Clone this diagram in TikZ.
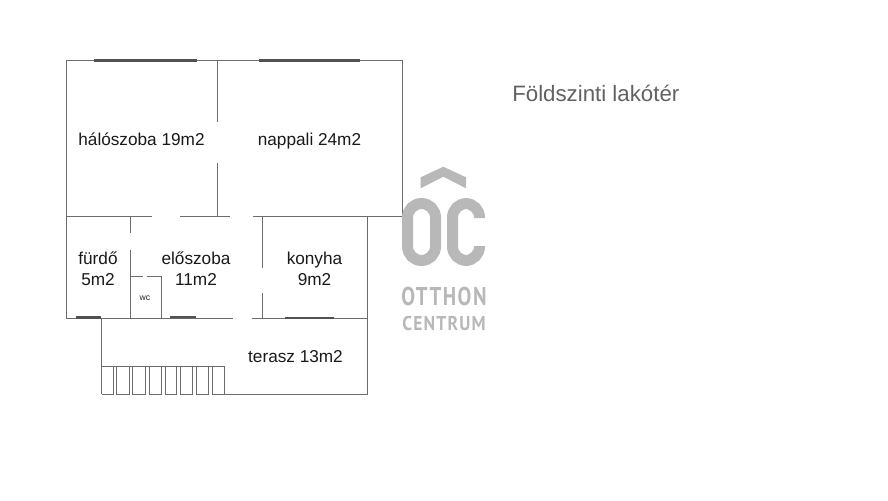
\documentclass[tikz,border=0pt]{standalone}
\usepackage{fontspec}
\setmainfont{Liberation Sans}
\newfontfamily\logofonta[FakeStretch=0.8,LetterSpace=6]{PT Sans}
\newfontfamily\logofontb[FakeStretch=0.88,LetterSpace=6]{PT Sans}
\definecolor{logogray}{gray}{0.72}
\tikzset{
 wall/.style={draw=black!58,line width=0.6pt},
 win/.style={draw=black!68,line width=1.8pt},
 lbl/.style={text=black!90,font=\fontsize{12.9pt}{15.75pt}\selectfont,align=center,inner sep=0pt},
 logo/.style={text=logogray,inner sep=0pt},
 logostroke/.style={draw=logogray,line width=8.25pt,rounded corners=10.5pt},
}
\begin{document}
\begin{tikzpicture}[x=0.75pt,y=-0.75pt]
\useasboundingbox (0,0) rectangle (888,500);
% outer
\draw[wall] (66,60) -- (402,60) -- (402,216.5);
\draw[wall] (66,60) -- (66,318);
% horizontal middle wall
\draw[wall] (66,216.5) -- (152,216.5);
\draw[wall] (180,216.5) -- (230,216.5);
\draw[wall] (252.5,216.5) -- (402,216.5);
% vertical
\draw[wall] (217.5,60) -- (217.5,122);
\draw[wall] (217.5,163) -- (217.5,216.5);
\draw[wall] (130,216.5) -- (130,233);
\draw[wall] (130,250) -- (130,318);
\draw[wall] (262.5,216.5) -- (262.5,268);
\draw[wall] (262.5,293) -- (262.5,318);
\draw[wall] (367.5,216.5) -- (367.5,394.5);
% wc
\draw[wall] (130,276) -- (143,276);
\draw[wall] (147,276) -- (161.5,276) -- (161.5,318);
% lower wall
\draw[wall] (66,318) -- (233,318);
\draw[wall] (252,318) -- (367.5,318);
% terrace
\draw[wall] (101.5,318) -- (101.5,394);
\draw[wall] (224.5,366.5) -- (224.5,394.5) -- (367.5,394.5);
\draw[wall] (101.5,366.5) -- (224.5,366.5);
\draw[wall] (101.5,394) -- (113.5,394) -- (113.5,366.5);
\foreach \a/\b in {116.7/129,132.7/145,149/161,165/176.7,180.7/192.7,196.7/208.5,212.7/224.5}
  \draw[wall] (\a,366.5) -- (\a,394) -- (\b,394) -- (\b,366.5);
% windows
\draw[win] (93.5,60.5) -- (196.5,60.5);
\draw[win] (259,60.5) -- (360,60.5);
\draw[win] (76,317.5) -- (101,317.5);
\draw[win] (170,317) -- (196,317);
\draw[win] (284.5,318) -- (334,318);
% labels
\node[lbl,anchor=base] (hal) at (141.5,145.3) {hálószoba 19m2};
\node[lbl,anchor=base] (nap) at (309.5,145.3) {nappali 24m2};
\node[lbl] (fur) at (98,268.5) {fürdő\\5m2};
\node[lbl] (elo) at (196,268.5) {előszoba\\11m2};
\node[lbl] (kon) at (314.5,268.5) {konyha\\9m2};
\node[lbl,anchor=base] (ter) at (295.5,362.7) {terasz 13m2};
\node[text=black!85,font=\fontsize{6.5pt}{8pt}\selectfont,inner sep=0pt] (wc) at (145,298.5) {wc};
\node[text=black!62,font=\fontsize{16.7pt}{18pt}\selectfont,anchor=base west,inner sep=0pt] (title) at (512,101.5) {Földszinti lakótér};
% logo
\fill[logogray] (420.7,177.3) -- (443.3,166.7) -- (466,177.3) -- (466,188.3) -- (443.3,176.7) -- (420.7,188.3) -- cycle;
\draw[logostroke] (407.5,203.5) rectangle (435.5,260.5);
\draw[logostroke] (479.5,218) -- (479.5,203.5) -- (452.5,203.5) -- (452.5,260.5) -- (479.5,260.5) -- (479.5,246);
\node[logo,font=\logofonta\bfseries\fontsize{19.3pt}{20pt}\selectfont,anchor=base] (l1) at (444,305) {OTTHON};
\node[logo,font=\logofontb\bfseries\fontsize{15pt}{20pt}\selectfont,anchor=base] (l2) at (444,330) {CENTRUM};
\end{tikzpicture}
\end{document}
